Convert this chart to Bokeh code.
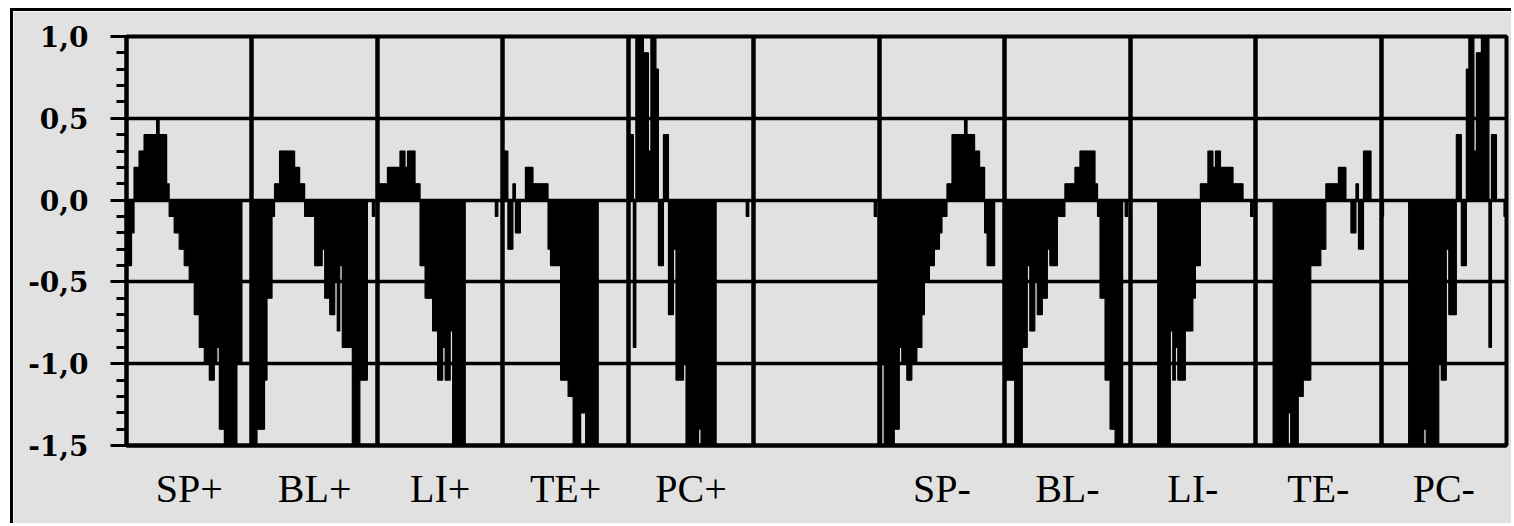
from bokeh.plotting import figure
from bokeh.models import ColumnDataSource, Range1d, FixedTicker
from bokeh.embed import file_html
from bokeh.resources import INLINE

categories = ["SP+", "BL+", "LI+", "TE+", "PC+", "", "SP-", "BL-", "LI-", "TE-", "PC-"]

sp_plus = [-0.4, -0.4, -0.2, 0.2, 0.2, 0.3, 0.3, 0.4, 0.4, 0.4,
           0.4, 0.4, 0.5, 0.4, 0.4, 0.4, 0.1, -0.1, -0.1, -0.2,
           -0.2, -0.3, -0.3, -0.4, -0.4, -0.5, -0.5, -0.7, -0.7, -0.9,
           -0.9, -1.0, -1.0, -1.1, -1.1, -1.0, -0.9, -1.4, -1.4, -1.5,
           -1.5, -1.5, -1.5, -1.5, -1.0, -1.0, 0, 0, 0, 0]
bl_plus = [-1.5, -1.5, -1.4, -1.4, -1.4, -1.1, -0.6, -0.6, -0.1, 0.1,
           0.1, 0.3, 0.3, 0.3, 0.3, 0.3, 0.3, 0.2, 0.2, 0.1,
           0.1, -0.1, -0.1, -0.1, -0.1, -0.4, -0.4, -0.4, -0.3, -0.6,
           -0.6, -0.7, -0.7, -0.5, -0.8, -0.4, -0.9, -0.9, -0.9, -0.9,
           -1.5, -1.5, -1.5, -1.1, -1.1, -1.1, 0, 0, -0.1, 0]
li_plus = [0.1, 0.1, 0.1, 0.1, 0.2, 0.2, 0.2, 0.2, 0.2, 0.3,
           0.3, 0.2, 0.3, 0.3, 0.3, 0.1, 0.1, -0.4, -0.4, -0.6,
           -0.6, -0.6, -0.8, -0.8, -1.1, -1.1, -0.9, -1.1, -1.1, -0.8,
           -1.5, -1.5, -1.5, -1.5, -1.5, 0, 0, 0, 0, 0,
           0, 0, 0, 0, 0, 0, 0, -0.1, 0, 0]
te_plus = [0.3, 0.3, -0.3, -0.3, 0.1, -0.2, -0.2, 0, 0, 0.2,
           0.2, 0.2, 0.1, 0.1, 0.1, 0.1, 0.1, 0.1, -0.3, -0.4,
           -0.4, -0.4, -0.4, -1.1, -1.1, -1.1, -1.2, -1.2, -1.5, -1.5,
           -1.5, -1.3, -1.3, -1.5, -1.5, -1.5, -1.5, -1.5, 0, 0,
           0, 0, 0, 0, 0, 0, 0, 0, 0, 0]
pc_plus = [0.4, 0.4, -0.9, 1.0, 1.0, 1.0, 0.9, 0.9, 0.3, 1.03,
           1.03, 0.8, -0.4, -0.4, 0.4, 0.4, -0.7, -0.7, -0.3, -1.1,
           -1.1, -1.1, -1.0, -1.5, -1.5, -1.5, -1.5, -1.5, -1.4, -1.5,
           -1.5, -1.5, -1.5, -1.5, -1.5, 0, 0, 0, 0, 0,
           0, 0, 0, 0, 0, 0, 0, -0.1, 0, 0]
empty = [0, 0, 0, 0, 0, 0, 0, 0, 0, 0,
         0, 0, 0, 0, 0, 0, 0, 0, 0, 0,
         0, 0, 0, 0, 0, 0, 0, 0, 0, 0,
         0, 0, 0, 0, 0, 0, 0, 0, 0, 0,
         0, 0, 0, 0, 0, 0, 0, 0, -0.1, 0]
sp_minus = [-1.5, -1.0, -1.5, -1.5, -1.5, -1.5, -1.4, -1.4, -0.9, -1.0,
            -1.0, -1.1, -1.1, -1.0, -1.0, -0.9, -0.9, -0.7, -0.5, -0.5,
            -0.4, -0.4, -0.3, -0.3, -0.2, -0.1, -0.1, 0.1, 0.1, 0.4,
            0.4, 0.4, 0.4, 0.4, 0.5, 0.4, 0.4, 0.4, 0.3, 0.3,
            0.2, 0.2, -0.2, -0.4, -0.4, -0.4, 0, 0, 0, 0]
bl_minus = [-1.1, -1.1, -1.1, -1.1, -1.5, -1.5, -1.5, -0.9, -0.9, -0.4,
            -0.8, -0.8, -0.5, -0.7, -0.7, -0.6, -0.6, -0.3, -0.4, -0.4,
            -0.4, -0.1, -0.1, -0.1, 0.1, 0.1, 0.1, 0.1, 0.2, 0.2,
            0.3, 0.3, 0.3, 0.3, 0.3, 0.3, 0.1, -0.1, -0.6, -0.6,
            -1.1, -1.1, -1.4, -1.4, -1.5, -1.5, -1.5, 0, -0.1, 0]
li_minus = [0, 0, 0, 0, 0, 0, 0, 0, 0, 0,
            0, -1.5, -1.5, -1.5, -1.5, -1.5, -0.8, -1.1, -0.9, -1.1,
            -1.1, -1.1, -0.8, -0.8, -0.8, -0.6, -0.4, -0.4, 0.1, 0.1,
            0.1, 0.3, 0.3, 0.2, 0.3, 0.3, 0.2, 0.2, 0.2, 0.2,
            0.2, 0.1, 0.1, 0.1, 0.1, 0, 0, 0, -0.1, 0]
te_minus = [0, 0, 0, 0, 0, 0, 0, -1.5, -1.5, -1.5,
            -1.5, -1.5, -1.5, -1.3, -1.5, -1.5, -1.5, -1.2, -1.2, -1.1,
            -1.1, -1.1, -0.4, -0.4, -0.4, -0.4, -0.3, -0.3, 0.1, 0.1,
            0.1, 0.1, 0.1, 0.2, 0.2, 0.2, 0, 0, -0.2, -0.2,
            0.1, -0.3, -0.3, 0.3, 0.3, 0.3, 0, 0, 0, 0]
pc_minus = [-0.1, 0, 0, 0, 0, 0, 0, 0, 0, 0,
            0, -1.5, -1.5, -1.5, -1.5, -1.5, -1.5, -1.4, -1.5, -1.5,
            -1.5, -1.5, -1.5, -1.0, -1.1, -1.1, -0.3, -0.7, -0.7, -0.7,
            0.4, 0.4, -0.4, -0.4, 0.8, 1.03, 1.03, 0.3, 0.9, 0.9,
            1.0, 1.0, 1.0, -0.9, 0.4, 0.4, 0, 0, 0, -0.1]

y_tick_values = [-1.5, -1.0, -0.5, 0.0, 0.5, 1.0]
y_tick_labels = ["-1,5", "-1,0", "-0,5", "0,0", "0,5", "1,0"]

series = [sp_plus, bl_plus, li_plus, te_plus, pc_plus, empty,
          sp_minus, bl_minus, li_minus, te_minus, pc_minus]
per = len(sp_plus)
values = [v for s in series for v in s]
xs = list(range(len(values)))
src = ColumnDataSource(data=dict(x=xs, v=values))

BG = "#e1e1e1"
p = figure(width=1501, height=515,
           x_range=Range1d(-0.5, len(values) - 0.5), y_range=Range1d(-1.5, 1.0),
           output_backend="svg", toolbar_location=None,
           min_border_left=113, min_border_right=8, min_border_top=25, min_border_bottom=81,
           background_fill_color=BG, border_fill_color=BG)
p.margin = (8, 0, 0, 10)
p.styles = {"border-left": "3px solid #000", "border-top": "3px solid #000"}

p.vbar(x="x", top="v", bottom=0, width=1, source=src,
       fill_color="black", line_color="black", line_width=1.2)

# grids
bounds = [k * per - 0.5 for k in range(1, len(categories))]
p.xgrid.ticker = FixedTicker(ticks=bounds)
p.xgrid.grid_line_color = "black"
p.xgrid.grid_line_width = 4.5
p.xgrid.grid_line_alpha = 1
p.ygrid.ticker = FixedTicker(ticks=[t for t in y_tick_values if t > -1.5])
p.ygrid.grid_line_color = "black"
p.ygrid.grid_line_width = 3.5
p.ygrid.grid_line_alpha = 1

p.outline_line_color = "black"
p.outline_line_width = 4
p.outline_line_alpha = 1

# y axis
minor = [round(-1.5 + 0.1 * i, 1) for i in range(26)]
p.yaxis.ticker = FixedTicker(ticks=y_tick_values, minor_ticks=minor)
p.yaxis.major_label_overrides = {v: l for v, l in zip(y_tick_values, y_tick_labels)}
p.yaxis.major_label_text_font = "DejaVu Serif"
p.yaxis.major_label_text_font_style = "bold"
p.yaxis.major_label_text_font_size = "28px"
p.yaxis.major_label_text_color = "black"
p.yaxis.major_label_standoff = 22
p.yaxis.major_tick_out = 16
p.yaxis.major_tick_in = 0
p.yaxis.minor_tick_out = 10
p.yaxis.minor_tick_in = 0
p.yaxis.major_tick_line_width = 3
p.yaxis.minor_tick_line_width = 3
p.yaxis.major_tick_line_color = "black"
p.yaxis.minor_tick_line_color = "black"
p.yaxis.axis_line_width = 4
p.yaxis.axis_line_color = "black"

# x axis
label_pos = [k * per + (per - 1) / 2 for k, c in enumerate(categories) if c]
label_txt = [c for c in categories if c]
p.xaxis.ticker = FixedTicker(ticks=label_pos)
p.xaxis.major_label_overrides = {v: l for v, l in zip(label_pos, label_txt)}
p.xaxis.major_label_text_font = "Liberation Serif"
p.xaxis.major_label_text_font_size = "40px"
p.xaxis.major_label_text_color = "black"
p.xaxis.major_label_standoff = 20
p.xaxis.major_tick_line_color = None
p.xaxis.major_tick_out = 0
p.xaxis.major_tick_in = 0
p.xaxis.minor_tick_line_color = None
p.xaxis.axis_line_width = 4
p.xaxis.axis_line_color = "black"

html = file_html(p, INLINE)
html = html.replace("<body>", '<body style="margin:0;background-color:%s;">' % BG, 1)
open("out.html", "w").write(html)
